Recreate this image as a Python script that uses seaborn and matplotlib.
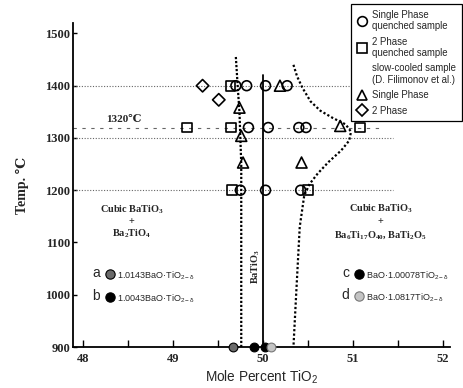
import matplotlib
matplotlib.use("Agg")
import matplotlib.pyplot as plt
import seaborn as sns
from matplotlib.lines import Line2D

# ---------------- data ----------------
# Single phase, quenched sample (open circles)
sp_q_x = [49.70, 49.82, 50.03, 50.27, 49.84, 50.06, 50.40, 50.48, 49.75, 50.03, 50.42]
sp_q_y = [1400, 1400, 1400, 1400, 1320, 1320, 1320, 1320, 1200, 1200, 1200]
# 2 phase, quenched sample (open squares)
tp_q_x = [49.64, 49.16, 49.65, 51.08, 49.66, 50.50]
tp_q_y = [1400, 1320, 1320, 1320, 1200, 1200]
# slow-cooled sample (D. Filimonov et al.): single phase (triangles)
sp_s_x = [50.19, 49.74, 50.86, 49.76, 49.78, 50.43]
sp_s_y = [1400, 1358, 1323, 1304, 1253, 1253]
# slow-cooled sample: 2 phase (diamonds)
tp_s_x = [49.33, 49.51]
tp_s_y = [1400, 1373]
# compositions a-d on the 900 line
samp_names = ["a", "b", "c", "d"]
samp_x = [49.67, 49.90, 50.02, 50.09]
samp_y = [900, 900, 900, 900]
samp_labels = ["1.0143BaO·TiO$_{2-\\delta}$", "1.0043BaO·TiO$_{2-\\delta}$",
               "BaO·1.00078TiO$_{2-\\delta}$", "BaO·1.0817TiO$_{2-\\delta}$"]
samp_face = ["#6a6a6a", "#000000", "#000000", "#c4c4c4"]

# phase boundaries
left_bd_x = [49.70, 49.72, 49.74, 49.76, 49.76, 49.76]
left_bd_y = [1455, 1400, 1350, 1250, 1100, 900]
right_bd_x = [50.34, 50.38, 50.44, 50.53, 50.64, 50.78, 50.92, 50.98, 50.96, 50.87,
              50.73, 50.61, 50.52, 50.46, 50.41, 50.37, 50.34]
right_bd_y = [1440, 1418, 1396, 1370, 1352, 1338, 1326, 1312, 1295, 1276,
              1254, 1232, 1212, 1190, 1130, 1000, 900]
batio3_x = 50.0
batio3_top = 1420

# horizontal reference lines
h_temps = [1400, 1320, 1300, 1200]
h_ends = [51.00, 51.35, 51.45, 51.45]
h_styles = [(0, (1, 1.5)), (0, (3, 5)), (0, (1, 1.5)), (0, (1, 1.5))]

x_ticks = [48, 49, 50, 51, 52]
y_ticks = [900, 1000, 1100, 1200, 1300, 1400, 1500]

# ---------------- style ----------------
sns.set_style("ticks")
serif = ["Liberation Serif", "DejaVu Serif", "DejaVu Sans"]
sans = ["Liberation Sans", "DejaVu Sans"]
plt.rcParams["font.family"] = serif
plt.rcParams["mathtext.default"] = "regular"

fig = plt.figure(figsize=(4.63, 3.88), dpi=100)
ax = fig.add_axes([73 / 463, 41 / 388, 377 / 463, 324 / 388])
ax.set_xlim(47.89, 52.08)
ax.set_ylim(900, 1520)

# lines
x0 = 47.89
for t, e, ls in zip(h_temps, h_ends, h_styles):
    ax.plot([x0, e], [t, t], color="#666666", lw=0.8, ls=ls, zorder=1)
ax.plot([batio3_x, batio3_x], [900, batio3_top], color="black", lw=1.3, zorder=2)
ax.plot(left_bd_x, left_bd_y, color="black", lw=1.6, ls=(0, (1, 0.8)), zorder=2)
ax.plot(right_bd_x, right_bd_y, color="black", lw=1.6, ls=(0, (1, 1.0)), zorder=2)

# markers
kw = dict(facecolor="none", edgecolor="black", linewidth=1.2, ax=ax, zorder=4, legend=False)
sns.scatterplot(x=sp_q_x, y=sp_q_y, marker="o", s=50, **kw)
sns.scatterplot(x=tp_q_x, y=tp_q_y, marker="s", s=50, **kw)
sns.scatterplot(x=sp_s_x, y=sp_s_y, marker="^", s=62, **kw)
sns.scatterplot(x=tp_s_x, y=tp_s_y, marker="D", s=40, **kw)
for xx, yy, fc in zip(samp_x, samp_y, samp_face):
    ax.scatter([xx], [yy], marker="o", s=40, facecolor=fc,
               edgecolor="black" if fc != "#c4c4c4" else "#777777",
               linewidth=0.8, zorder=5, clip_on=False)

# annotation of sample compositions
ann_pos = [(48.15, 1040), (48.15, 995), (50.92, 1040), (50.92, 998)]
for (nm, lab, fc, (ax_, ay)) in zip(samp_names, samp_labels, samp_face, ann_pos):
    ax.text(ax_, ay + 2, nm, fontsize=10, family=sans, ha="center", va="center")
    ax.scatter([ax_ + 0.15], [ay], marker="o", s=45, facecolor=fc,
               edgecolor="black" if fc != "#c4c4c4" else "#777777", linewidth=0.8, zorder=5)
    ax.text(ax_ + 0.23, ay - 3, lab, fontsize=6.5, family=sans, ha="left", va="center")

# phase field labels
bold = dict(fontweight="bold", ha="center", va="center", fontsize=7.4)
ax.text(48.54, 1162, "Cubic BaTiO$_3$", **bold)
ax.text(48.54, 1141, "+", **bold)
ax.text(48.54, 1116, "Ba$_2$TiO$_4$", **bold)
ax.text(51.31, 1165, "Cubic BaTiO$_3$", **bold)
ax.text(51.31, 1140, "+", **bold)
ax.text(51.31, 1114, "Ba$_6$Ti$_{17}$O$_{40}$, BaTi$_2$O$_5$", **bold)
ax.text(49.92, 1055, "BaTiO$_3$", rotation=90, **bold)
ax.text(48.46, 1336, "1320℃", fontsize=8, fontweight="bold", ha="center", va="center")

# axes styling
for s in ["top", "right"]:
    ax.spines[s].set_visible(False)
for s in ["left", "bottom"]:
    ax.spines[s].set_linewidth(1.3)
    ax.spines[s].set_color("black")
ax.set_xticks(x_ticks)
ax.set_xticks([48.5, 49.5, 50.5, 51.5], minor=True)
ax.set_yticks(y_ticks)
ax.set_xticklabels([str(v) for v in x_ticks], fontweight="bold", fontsize=9)
ax.set_yticklabels([str(v) for v in y_ticks], fontweight="bold", fontsize=9)
ax.tick_params(axis="both", which="both", direction="in", color="black")
ax.tick_params(axis="x", which="both", length=5, width=1, pad=4)
ax.tick_params(axis="y", which="major", length=3, width=1, pad=2)

ax.set_xlabel("Mole Percent TiO$_2$", family=sans, fontsize=9.8, labelpad=3)
ax.set_ylabel("Temp. ℃", fontweight="bold", fontsize=10, labelpad=12)

# legend
hk = dict(ls="none", mfc="none", mec="black", mew=1.2)
handles = [Line2D([], [], marker="o", ms=7, **hk),
           Line2D([], [], marker="s", ms=7, **hk),
           Line2D([], [], ls="none"),
           Line2D([], [], marker="^", ms=7.5, **hk),
           Line2D([], [], marker="D", ms=6, **hk)]
labels = ["Single Phase\nquenched sample", "2 Phase\nquenched sample",
          "slow-cooled sample\n(D. Filimonov et al.)", "Single Phase", "2 Phase"]
leg = fig.legend(handles, labels, loc="upper right", bbox_to_anchor=(462 / 463, 384 / 388),
                 frameon=True, fancybox=False, edgecolor="black", framealpha=1,
                 prop={"family": sans, "size": 6.9}, handlelength=1.0, handletextpad=0.6,
                 borderpad=0.6, labelspacing=0.55, borderaxespad=0)
leg.get_frame().set_linewidth(0.9)

fig.savefig("out.png", dpi=100)
